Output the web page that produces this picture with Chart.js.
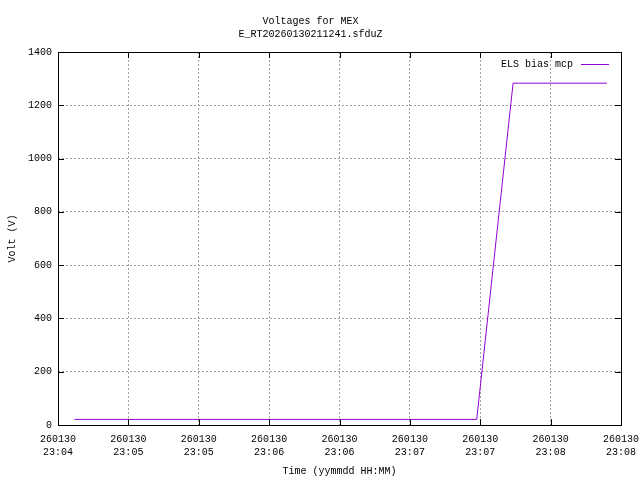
<!DOCTYPE html>
<html>
<head>
<meta charset="utf-8">
<script src="https://cdn.jsdelivr.net/npm/chart.js@4"></script>
<style>
  html, body { margin: 0; padding: 0; background: #fff; }
  #wrap { width: 640px; height: 480px; }
</style>
</head>
<body>
<div id="wrap"><canvas id="myChart" width="640" height="480"></canvas></div>
<script>
// seconds after 23:04:30 on 260130
var baseTime = 23 * 3600 + 4 * 60 + 30;
var timeSec = [7, 178.5, 194, 234];
var elsBias = [21, 21, 1283, 1283];
var seriesLabel = "ELS bias mcp";
var titleLines = ["Voltages for MEX", "E_RT20260130211241.sfduZ"];
var datePart = "260130";

var monoFont = "'Liberation Mono', 'DejaVu Sans Mono', monospace";
var purple = "#9400d3";

function fmtTick(v) {
  var t = baseTime + v;
  var hh = Math.floor(t / 3600) % 24;
  var mm = Math.floor((t % 3600) / 60);
  return [datePart, (hh < 10 ? "0" : "") + hh + ":" + (mm < 10 ? "0" : "") + mm];
}

var pts = [];
for (let i = 0; i < timeSec.length; i++) {
  pts.push({ x: timeSec[i], y: elsBias[i] });
}

// box round the plot, inward ticks, legend inside the top right corner
var gnuBox = {
  id: "gnuBox",
  afterDraw: function(chart) {
    var ctx = chart.ctx;
    var a = chart.chartArea;
    var xs = chart.scales.x, ys = chart.scales.y;
    ctx.save();
    ctx.strokeStyle = "#000";
    ctx.lineWidth = 1;
    ctx.beginPath();
    xs.ticks.forEach(function(t) {
      var px = Math.round(xs.getPixelForValue(t.value)) + 0.5;
      ctx.moveTo(px, a.bottom); ctx.lineTo(px, a.bottom - 6);
      ctx.moveTo(px, a.top); ctx.lineTo(px, a.top + 6);
    });
    ys.ticks.forEach(function(t) {
      var py = Math.round(ys.getPixelForValue(t.value)) + 0.5;
      ctx.moveTo(a.left, py); ctx.lineTo(a.left + 6, py);
      ctx.moveTo(a.right, py); ctx.lineTo(a.right - 6, py);
    });
    ctx.stroke();
    ctx.strokeRect(Math.round(a.left) + 0.5, Math.round(a.top) + 0.5,
      Math.round(a.right - a.left), Math.round(a.bottom - a.top));

    // legend
    var ly = a.top + 12;
    ctx.font = "10px " + monoFont;
    ctx.fillStyle = "#000";
    ctx.textAlign = "right";
    ctx.textBaseline = "middle";
    ctx.fillText(chart.data.datasets[0].label, a.right - 48, ly);
    ctx.strokeStyle = purple;
    ctx.beginPath();
    ctx.moveTo(a.right - 40, ly + 0.5);
    ctx.lineTo(a.right - 12, ly + 0.5);
    ctx.stroke();
    ctx.restore();
  }
};

new Chart("myChart", {
  type: "line",
  data: {
    datasets: [{
      label: seriesLabel,
      data: pts,
      borderColor: purple,
      borderWidth: 1,
      pointRadius: 0,
      fill: false,
      tension: 0
    }]
  },
  options: {
    responsive: false,
    animation: false,
    layout: { padding: { left: 0, right: 19, top: 0, bottom: 0 } },
    plugins: {
      legend: { display: false },
      tooltip: { enabled: false },
      title: {
        display: true,
        text: titleLines,
        color: "#000",
        font: { family: monoFont, size: 10, weight: "normal", lineHeight: 1.3 },
        padding: { top: 15, bottom: 11 }
      }
    },
    scales: {
      x: {
        type: "linear",
        min: 0,
        max: 240,
        afterFit: function(s) {
          s.height = 55;
          s.paddingLeft = 0;
          s.paddingRight = 0;
        },
        ticks: {
          stepSize: 30,
          color: "#000",
          font: { family: monoFont, size: 10, lineHeight: 1.3 },
          padding: 8,
          maxRotation: 0,
          autoSkip: false,
          callback: function(v) { return fmtTick(v); }
        },
        grid: { color: "#a0a0a0", drawTicks: false },
        border: { display: false, dash: [2, 2] },
        title: {
          display: true,
          text: "Time (yymmdd HH:MM)",
          color: "#000",
          font: { family: monoFont, size: 10 },
          padding: { top: 0, bottom: 3 }
        }
      },
      y: {
        min: 0,
        max: 1400,
        afterFit: function(s) {
          s.width = 58;
          s.paddingTop = 0;
          s.paddingBottom = 0;
        },
        ticks: {
          stepSize: 200,
          color: "#000",
          font: { family: monoFont, size: 10 },
          padding: 6,
          callback: function(v) { return String(v); }
        },
        grid: { color: "#a0a0a0", drawTicks: false },
        border: { display: false, dash: [2, 2] },
        title: {
          display: true,
          text: "Volt (V)",
          color: "#000",
          font: { family: monoFont, size: 10 },
          padding: { top: 6, bottom: 0 }
        }
      }
    }
  },
  plugins: [gnuBox]
});
</script>
</body>
</html>
